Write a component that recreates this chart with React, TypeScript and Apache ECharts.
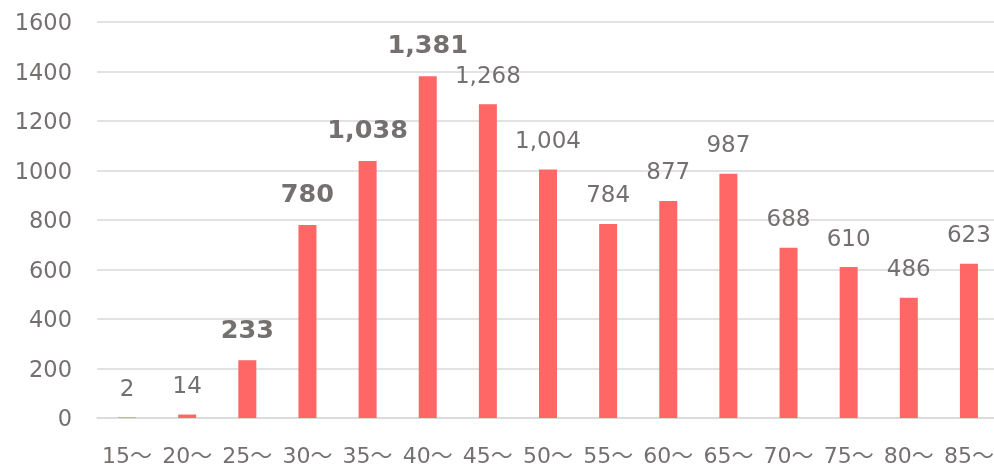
import React, { useEffect, useRef } from "react";
import * as echarts from "echarts";

const categories = ["15～", "20～", "25～", "30～", "35～", "40～", "45～", "50～", "55～", "60～", "65～", "70～", "75～", "80～", "85～"];
const values = [2, 14, 233, 780, 1038, 1381, 1268, 1004, 784, 877, 987, 688, 610, 486, 623];
const boldIndices = [2, 3, 4, 5];
const yTicks = { min: 0, max: 1600, interval: 200 };

const TEXT = "#757070";
const BAR = "#FF6666";
const FONT = "DejaVu Sans, Noto Sans CJK JP, sans-serif";

export default function App() {
  const ref = useRef<HTMLDivElement>(null);
  useEffect(() => {
    if (!ref.current) return;
    const chart = echarts.init(ref.current, undefined, { renderer: "svg" });
    chart.setOption({
      animation: false,
      textStyle: { fontFamily: FONT },
      grid: { left: 97, right: -5, top: 22, bottom: 50, containLabel: false, outerBoundsMode: "none" },
      xAxis: {
        type: "category",
        data: categories,
        axisLine: { show: true, lineStyle: { color: "#D9D9D9", width: 1.5 } },
        axisTick: { show: false },
        axisLabel: { color: TEXT, fontFamily: FONT, fontSize: 22, lineHeight: 16, margin: 29, interval: 0 },
      },
      yAxis: {
        type: "value",
        min: yTicks.min,
        max: yTicks.max,
        interval: yTicks.interval,
        axisLine: { show: false },
        axisTick: { show: false },
        splitLine: { lineStyle: { color: "#D9D9D9", width: 1.5 } },
        axisLabel: { color: TEXT, fontFamily: FONT, fontSize: 22.5, margin: 25, formatter: (v: number) => String(v) },
      },
      series: [
        {
          type: "bar",
          barWidth: 18,
          itemStyle: { color: BAR },
          label: {
            show: true,
            position: "top",
            distance: 18,
            color: TEXT,
            fontFamily: FONT,
            fontSize: 23,
            formatter: (p: any) => Number(p.value).toLocaleString("en-US"),
          },
          data: values.map((v, i) =>
            boldIndices.includes(i)
              ? { value: v, label: { fontWeight: "bold", fontSize: 25.5, distance: 19 } }
              : { value: v }
          ),
        },
      ],
    });
    return () => chart.dispose();
  }, []);
  return <div ref={ref} style={{ position: "fixed", left: 0, top: 0, width: 994, height: 468 }} />;
}
